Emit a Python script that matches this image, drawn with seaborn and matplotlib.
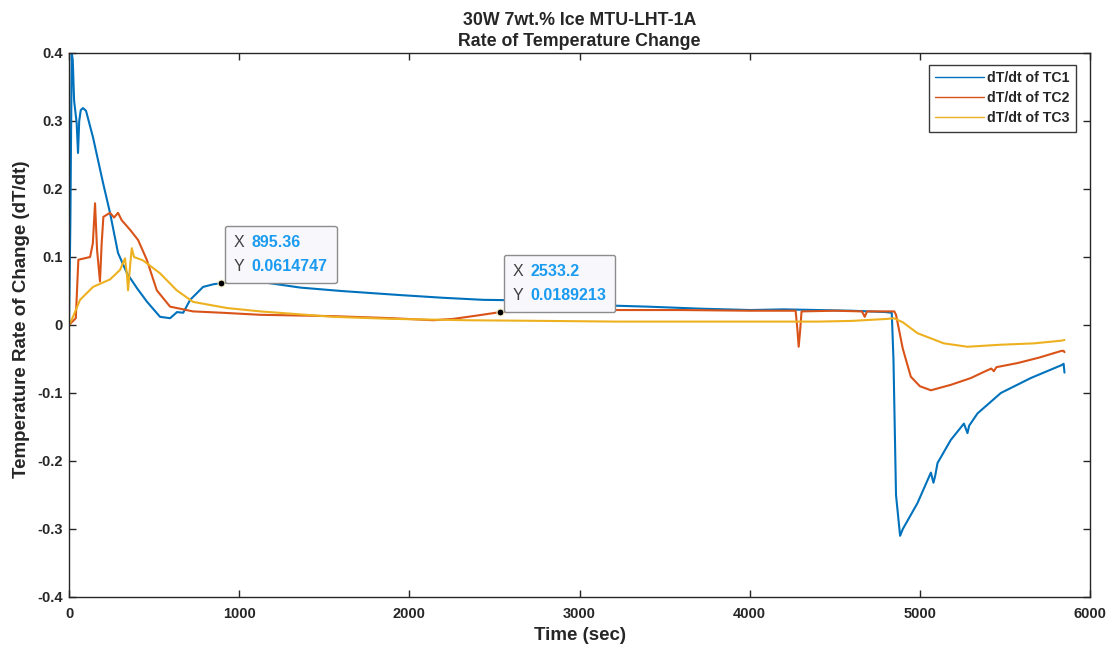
import matplotlib
matplotlib.use("Agg")
import matplotlib.pyplot as plt
from matplotlib.offsetbox import TextArea, HPacker, VPacker, AnnotationBbox
from matplotlib.ticker import FuncFormatter
import numpy as np
import pandas as pd
import seaborn as sns

# ---- data: dT/dt of the three thermocouples (sec, degC/sec) ----
tc1_t = [0, 8, 16, 22, 30, 45, 53, 60, 69, 82, 100, 141, 200, 241, 288, 341, 400,
         459, 535, 594, 635, 671, 712, 788, 850, 895.36, 1000, 1165, 1360, 1600,
         1947, 2200, 2435, 2729, 2950, 3124, 3400, 3712, 4006, 4200, 4400, 4600,
         4800, 4835, 4845, 4860, 4884, 4900, 4986, 5065, 5080, 5090, 5104, 5182,
         5259, 5280, 5290, 5339, 5476, 5652, 5833, 5845, 5850]
tc1_v = [0, 0.15, 0.40, 0.39, 0.33, 0.297, 0.253, 0.30, 0.316, 0.319, 0.315, 0.276,
         0.209, 0.165, 0.106, 0.076, 0.054, 0.034, 0.012, 0.010, 0.019, 0.018,
         0.037, 0.056, 0.060, 0.0614747, 0.063, 0.062, 0.055, 0.050, 0.044, 0.040,
         0.037, 0.036, 0.031, 0.029, 0.027, 0.024, 0.022, 0.023, 0.022, 0.021,
         0.019, 0.018, -0.05, -0.25, -0.310, -0.300, -0.262, -0.217, -0.232,
         -0.222, -0.203, -0.169, -0.145, -0.159, -0.148, -0.130, -0.100, -0.078,
         -0.059, -0.057, -0.070]

tc2_t = [0, 40, 55, 90, 124, 140, 153, 165, 182, 192, 202, 241, 265, 288, 310, 359,
         406, 457, 516, 594, 729, 900, 1124, 1553, 1900, 2141, 2259, 2400, 2533.2,
         2800, 3200, 3600, 4000, 4270, 4280, 4288, 4296, 4305, 4500, 4660, 4676,
         4690, 4850, 4860, 4900, 4947, 5000, 5065, 5182, 5300, 5376, 5420, 5435,
         5450, 5574, 5700, 5833, 5845, 5850]
tc2_v = [0, 0.01, 0.096, 0.098, 0.10, 0.12, 0.179, 0.11, 0.064, 0.12, 0.159, 0.165,
         0.158, 0.165, 0.154, 0.140, 0.125, 0.096, 0.051, 0.027, 0.020, 0.018,
         0.015, 0.013, 0.010, 0.007, 0.009, 0.014, 0.0189213, 0.020, 0.022, 0.022,
         0.021, 0.021, -0.005, -0.032, -0.010, 0.020, 0.021, 0.020, 0.012, 0.020,
         0.020, 0.015, -0.035, -0.076, -0.090, -0.096, -0.088, -0.078, -0.069,
         -0.064, -0.068, -0.062, -0.056, -0.048, -0.038, -0.038, -0.040]

tc3_t = [0, 20, 65, 141, 241, 300, 329, 340, 347, 360, 369, 382, 435, 535, 633,
         729, 927, 1124, 1553, 1900, 2341, 2800, 3224, 3800, 4400, 4600, 4810,
         4847, 4900, 4986, 5141, 5280, 5476, 5671, 5833, 5850]
tc3_v = [0, 0.010, 0.037, 0.056, 0.067, 0.081, 0.098, 0.075, 0.051, 0.090, 0.113,
         0.100, 0.095, 0.076, 0.051, 0.034, 0.025, 0.020, 0.012, 0.009, 0.007,
         0.006, 0.005, 0.005, 0.005, 0.006, 0.009, 0.010, 0.004, -0.012, -0.027,
         -0.032, -0.029, -0.027, -0.023, -0.022]

series_names = ["dT/dt of TC1", "dT/dt of TC2", "dT/dt of TC3"]
series_colors = ["#0072BD", "#D95319", "#EDB120"]

# data tips (time, value)
tip_t = [895.36, 2533.2]
tip_v = [0.0614747, 0.0189213]
tip_x_text = ["895.36", "2533.2"]
tip_y_text = ["0.0614747", "0.0189213"]

x_ticks = [0, 1000, 2000, 3000, 4000, 5000, 6000]
y_ticks = [-0.4, -0.3, -0.2, -0.1, 0, 0.1, 0.2, 0.3, 0.4]

frames = []
for name, t, v in zip(series_names, [tc1_t, tc2_t, tc3_t], [tc1_v, tc2_v, tc3_v]):
    frames.append(pd.DataFrame({"Time": t, "dTdt": v, "Series": name}))
df = pd.concat(frames, ignore_index=True)

# ---- styling ----
sns.set_theme(style="white")
plt.rcParams["font.family"] = ["Liberation Sans", "DejaVu Sans"]
plt.rcParams["font.weight"] = "bold"
axis_grey = "#262626"

W, H = 1117, 653
fig = plt.figure(figsize=(W / 100, H / 100), dpi=100)
ax = fig.add_axes([69 / W, 1 - 597 / H, (1090 - 69) / W, (597 - 53) / H])

sns.lineplot(data=df, x="Time", y="dTdt", hue="Series", hue_order=series_names,
             palette=series_colors, estimator=None, sort=False, linewidth=1.5,
             ax=ax)

ax.set_xlim(0, 6000)
ax.set_ylim(-0.4, 0.4)
ax.set_xticks(x_ticks)
ax.set_yticks(y_ticks)
ax.yaxis.set_major_formatter(FuncFormatter(lambda v, p: f"{round(v, 1):g}"))
ax.tick_params(direction="in", length=5, width=1, color=axis_grey,
               labelcolor=axis_grey, labelsize=10.5, top=True, right=True,
               bottom=True, left=True)
ax.tick_params(axis="x", pad=7.5)
ax.tick_params(axis="y", pad=4.5)
for lbl in ax.get_xticklabels() + ax.get_yticklabels():
    lbl.set_fontweight("bold")
for s in ax.spines.values():
    s.set_color(axis_grey)
    s.set_linewidth(1.0)

ax.set_xlabel("Time (sec)", fontsize=13.5, fontweight="bold", color=axis_grey,
              labelpad=4)
ax.set_ylabel("Temperature Rate of Change (dT/dt)", fontsize=13.5,
              fontweight="bold", color=axis_grey, labelpad=5, y=0.51)
ax.set_title("30W 7wt.% Ice MTU-LHT-1A\nRate of Temperature Change",
             fontsize=12.8, fontweight="bold", color=axis_grey, pad=5,
             linespacing=1.35)

leg = ax.legend(loc="upper right", bbox_to_anchor=(1076 / W, 1 - 65 / H),
                bbox_transform=fig.transFigure, borderaxespad=0,
                fancybox=False, framealpha=1, edgecolor="#3a3a3a",
                prop={"size": 10.2, "weight": "bold"}, handlelength=3.4,
                labelspacing=0.42, borderpad=0.45, handletextpad=0.25)
leg.get_frame().set_linewidth(1.0)
for line in leg.get_lines():
    line.set_linewidth(1.0)

# ---- data tips ----
tip_font = 10.0
tip_pad = 0.65  # fraction of tip_font
for t, v, xs, ys in zip(tip_t, tip_v, tip_x_text, tip_y_text):
    ax.plot([t], [v], marker="o", markersize=5, color="black",
            markeredgecolor="#f5f0c8", markeredgewidth=0.8, zorder=6)
    lab = dict(size=11.5, color="#404040", weight="normal")
    val = dict(size=11.5, color="#1a9bf0", weight="bold")
    row1 = HPacker(children=[TextArea("X", textprops=lab),
                             TextArea(xs, textprops=val)], sep=5, pad=0)
    row2 = HPacker(children=[TextArea("Y", textprops=lab),
                             TextArea(ys, textprops=val)], sep=5, pad=0)
    box = VPacker(children=[row1, row2], sep=6.5, pad=0, align="left")
    off = tip_pad * tip_font
    ab = AnnotationBbox(box, (t, v), xybox=(off + 2.5, off),
                        boxcoords="offset points", box_alignment=(0, 0),
                        pad=tip_pad, fontsize=tip_font, frameon=True,
                        bboxprops=dict(facecolor="#f8f8fc", edgecolor="#8c8c8c",
                                       linewidth=1.0,
                                       boxstyle="round,pad=0.65,rounding_size=0.15"),
                        zorder=7)
    ax.add_artist(ab)

fig.savefig("out.png", dpi=100, facecolor="white")
